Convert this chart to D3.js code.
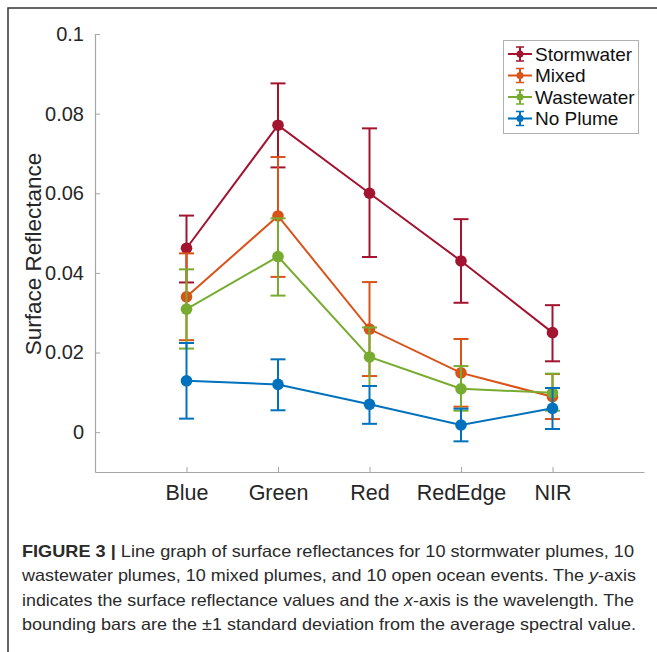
<!DOCTYPE html>
<html><head><meta charset="utf-8">
<script src="https://cdn.jsdelivr.net/npm/d3@7"></script>
<style>body{margin:0;background:#fff;} svg{display:block;}</style>
</head><body>
<script>
const categories = ["Blue","Green","Red","RedEdge","NIR"];
const seriesNames = ["Stormwater","Mixed","Wastewater","No Plume"];
const seriesColors = ["#A2142F","#D95319","#77AC30","#0072BD"];
const stormMean = [0.0462,0.0771,0.0600,0.0430,0.0250];
const stormLow  = [0.0376,0.0665,0.0440,0.0325,0.0178];
const stormHigh = [0.0544,0.0876,0.0763,0.0535,0.0319];
const mixedMean = [0.0340,0.0543,0.0259,0.0149,0.0089];
const mixedLow  = [0.0231,0.0390,0.0141,0.0064,0.0033];
const mixedHigh = [0.0449,0.0691,0.0377,0.0234,0.0146];
const wasteMean = [0.0309,0.0441,0.0189,0.0109,0.0099];
const wasteLow  = [0.0210,0.0343,0.0116,0.0054,0.0054];
const wasteHigh = [0.0409,0.0537,0.0263,0.0166,0.0147];
const noneMean  = [0.0129,0.0120,0.0070,0.0018,0.0060];
const noneLow   = [0.0034,0.0055,0.0021,-0.0023,0.0008];
const noneHigh  = [0.0224,0.0183,0.0116,0.0059,0.0111];
const yTicks = [0,0.02,0.04,0.06,0.08,0.1];
const yTickLabels = ["0","0.02","0.04","0.06","0.08","0.1"];
const captionLines = [
  [{t:"FIGURE 3 | ",b:true},{t:"Line graph of surface reflectances for 10 stormwater plumes, 10"}],
  [{t:"wastewater plumes, 10 mixed plumes, and 10 open ocean events. The "},{t:"y",i:true},{t:"-axis"}],
  [{t:"indicates the surface reflectance values and the "},{t:"x",i:true},{t:"-axis is the wavelength. The"}],
  [{t:"bounding bars are the \u00b11 standard deviation from the average spectral value."}]
];

const series = [
  {name:seriesNames[0],color:seriesColors[0],mean:stormMean,low:stormLow,high:stormHigh},
  {name:seriesNames[1],color:seriesColors[1],mean:mixedMean,low:mixedLow,high:mixedHigh},
  {name:seriesNames[2],color:seriesColors[2],mean:wasteMean,low:wasteLow,high:wasteHigh},
  {name:seriesNames[3],color:seriesColors[3],mean:noneMean,low:noneLow,high:noneHigh}
];

const W=657,H=652;
const svg=d3.select("body").append("svg").attr("width",W).attr("height",H);
const font="'Liberation Sans', Arial, Helvetica, sans-serif";

// frame
svg.append("path").attr("d",`M8,${H} L8,8 L${W},8`).attr("fill","none").attr("stroke","#333").attr("stroke-width",1.5);

const x=d3.scaleLinear().domain([0,6]).range([95,644]);
const y=d3.scaleLinear().domain([-0.01,0.1]).range([472,34]);

// axes
const axisColor="#a6a6a6";
const gy=svg.append("g").attr("transform","translate(95,0)")
  .call(d3.axisLeft(y).tickValues(yTicks).tickFormat((d,i)=>yTickLabels[i]).tickSizeInner(-5).tickSizeOuter(0).tickPadding(11));
gy.select(".domain").attr("stroke",axisColor).attr("stroke-width",1.2);
gy.selectAll(".tick line").attr("stroke",axisColor);
gy.selectAll(".tick text").attr("font-family",font).attr("font-size",20).attr("fill","#262626");

const gx=svg.append("g").attr("transform","translate(0,472)")
  .call(d3.axisBottom(x).tickValues(d3.range(1,6)).tickFormat(d=>categories[d-1]).tickSizeInner(-5).tickSizeOuter(0).tickPadding(13));
gx.select(".domain").attr("stroke",axisColor).attr("stroke-width",1.2);
gx.selectAll(".tick line").attr("stroke",axisColor);
gx.selectAll(".tick text").attr("font-family",font).attr("font-size",21.5).attr("fill","#262626");

svg.append("text").attr("transform","translate(41,254) rotate(-90)").attr("text-anchor","middle")
  .attr("font-family",font).attr("font-size",22.5).attr("fill","#262626").text("Surface Reflectance");

// series
const cap=7.5;
series.forEach(s=>{
  const g=svg.append("g");
  const idx=d3.range(categories.length);
  g.append("path").datum(idx).attr("fill","none").attr("stroke",s.color).attr("stroke-width",2)
    .attr("d",d3.line().x(i=>x(i+1)).y(i=>y(s.mean[i])));
  idx.forEach(i=>{
    const cx=x(i+1);
    g.append("line").attr("x1",cx).attr("x2",cx).attr("y1",y(s.low[i])).attr("y2",y(s.high[i])).attr("stroke",s.color).attr("stroke-width",2);
    [s.low[i],s.high[i]].forEach(v=>{
      g.append("line").attr("x1",cx-cap).attr("x2",cx+cap).attr("y1",y(v)).attr("y2",y(v)).attr("stroke",s.color).attr("stroke-width",2);
    });
    g.append("circle").attr("cx",cx).attr("cy",y(s.mean[i])).attr("r",5.8).attr("fill",s.color);
  });
});

// legend
const lg=svg.append("g");
lg.append("rect").attr("x",503.5).attr("y",40.5).attr("width",135).attr("height",93).attr("fill","#fff").attr("stroke","#b0b0b0").attr("stroke-width",1);
series.forEach((s,i)=>{
  const ly=54+i*21.5;
  lg.append("line").attr("x1",508).attr("x2",532).attr("y1",ly).attr("y2",ly).attr("stroke",s.color).attr("stroke-width",2);
  lg.append("line").attr("x1",520).attr("x2",520).attr("y1",ly-7).attr("y2",ly+7).attr("stroke",s.color).attr("stroke-width",2);
  [ly-7,ly+7].forEach(yy=>lg.append("line").attr("x1",516).attr("x2",524).attr("y1",yy).attr("y2",yy).attr("stroke",s.color).attr("stroke-width",1.5));
  lg.append("circle").attr("cx",520).attr("cy",ly).attr("r",3.5).attr("fill",s.color);
  lg.append("text").attr("x",535).attr("y",ly).attr("dy","0.35em").attr("font-family",font).attr("font-size",19).attr("fill","#111").text(s.name);
});

// caption
captionLines.forEach((line,i)=>{
  const t=svg.append("text").attr("x",22).attr("y",557+i*24.3).attr("font-family",font).attr("font-size",16.5).attr("fill","#2a2a2a");
  line.forEach(p=>{
    const ts=t.append("tspan").text(p.t);
    if(p.b) ts.attr("font-weight","bold");
    if(p.i) ts.attr("font-style","italic");
  });
  const target=[612,614,612,614][i];
  const len=t.node().getComputedTextLength();
  if(Math.abs(len-target)>2) t.attr("textLength",target).attr("lengthAdjust","spacingAndGlyphs");
});
</script>
</body></html>
